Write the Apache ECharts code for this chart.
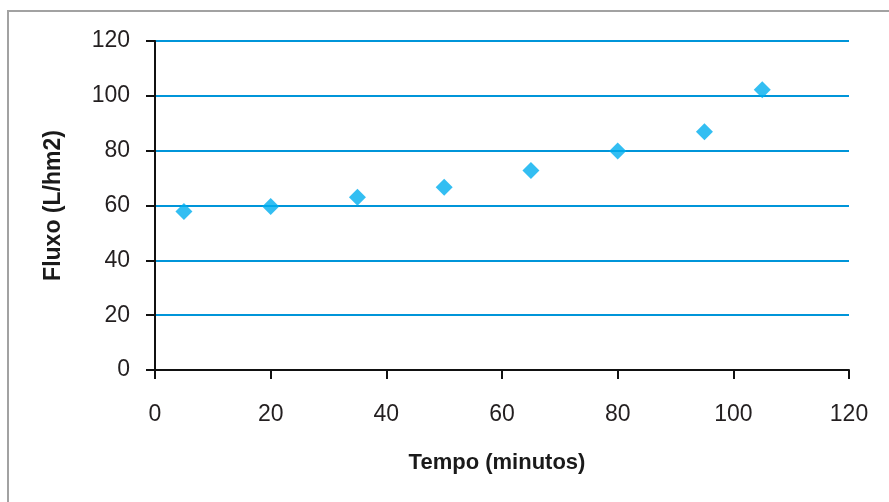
<!DOCTYPE html>
<html>
<head>
<meta charset="utf-8">
<script src="https://cdn.jsdelivr.net/npm/echarts@6/dist/echarts.min.js"></script>
<style>
html,body{margin:0;padding:0;background:#fff;}
#chart{width:889px;height:502px;}
</style>
</head>
<body>
<div id="chart"></div>
<script>
var xTitle = 'Tempo (minutos)';
var yTitle = 'Fluxo (L/hm2)';
var tempo = [5, 20, 35, 50, 65, 80, 95, 105];
var fluxo = [57.8, 59.6, 63.0, 66.7, 72.8, 79.9, 86.9, 102.2];
var xTicks = [0, 20, 40, 60, 80, 100, 120];
var yTicks = [0, 20, 40, 60, 80, 100, 120];

var points = tempo.map(function (t, i) { return [t, fluxo[i]]; });
var font = '"Liberation Sans", Arial, sans-serif';

var chart = echarts.init(document.getElementById('chart'));
chart.setOption({
  animation: false,
  backgroundColor: '#ffffff',
  graphic: [{
    type: 'rect',
    shape: { x: 8, y: 11, width: 1000, height: 1000 },
    style: { fill: 'none', stroke: '#a2a2a2', lineWidth: 2 },
    silent: true
  }],
  grid: { left: 155, right: 40, top: 41, bottom: 132 },
  xAxis: {
    type: 'value',
    min: xTicks[0],
    max: xTicks[xTicks.length - 1],
    interval: 20,
    name: xTitle,
    nameLocation: 'middle',
    nameGap: 82,
    nameTextStyle: { fontFamily: font, fontWeight: 'bold', fontSize: 22, color: '#1a1a1a', padding: [0, 10, 0, 0] },
    axisLine: { show: true, lineStyle: { color: '#111', width: 2 } },
    axisTick: { show: true, length: 9, lineStyle: { color: '#111', width: 2 } },
    axisLabel: { margin: 33, fontFamily: font, fontSize: 23, color: '#231f20' },
    splitLine: { show: false }
  },
  yAxis: {
    type: 'value',
    min: yTicks[0],
    max: yTicks[yTicks.length - 1],
    interval: 20,
    name: yTitle,
    nameLocation: 'middle',
    nameGap: 90,
    nameTextStyle: { fontFamily: font, fontWeight: 'bold', fontSize: 23, color: '#1a1a1a' },
    axisLine: { show: true, lineStyle: { color: '#111', width: 2 } },
    axisTick: { show: true, length: 9, lineStyle: { color: '#111', width: 2 } },
    axisLabel: { margin: 25, fontFamily: font, fontSize: 23, color: '#231f20' },
    splitLine: { show: true, lineStyle: { color: '#0095d9', width: 2 } }
  },
  series: [{
    type: 'scatter',
    data: points,
    symbol: 'diamond',
    symbolSize: 17,
    itemStyle: { color: '#00aeef' }
  }]
});
</script>
</body>
</html>
